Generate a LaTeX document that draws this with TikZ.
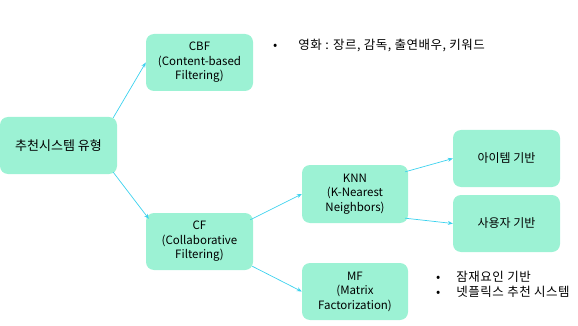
\documentclass[tikz,border=0pt]{standalone}
\usepackage{fontspec}
\setmainfont{Noto Sans CJK KR}
\newfontfamily\gulim[LetterSpace=4]{Noto Sans CJK KR}
\usepackage{xcolor}
\usetikzlibrary{positioning, arrows.meta}
\definecolor{mint}{HTML}{9CF2D4}
\definecolor{link}{HTML}{3CD2EE}
\newcommand\boxfont{\fontsize{11.5}{14.5}\selectfont\lineskiplimit=-20pt\relax}

\begin{document}
\begin{tikzpicture}[x=1pt, y=-1pt,
  box/.style={rectangle, rounded corners=8pt, fill=mint, align=center,
    minimum width=107pt, minimum height=57pt, inner sep=0pt,
    font=\boxfont},
  link/.style={draw=link, line width=0.7pt, -{Stealth[length=5pt, width=4pt]}},
  note/.style={anchor=west, inner sep=0pt, font=\gulim\fontsize{12.5}{15}\selectfont}]
\useasboundingbox (0,0) rectangle (578,326);
% Boxes
\node[box, minimum width=117pt, font=\fontsize{13}{15}\selectfont] (root) at (58.5,145.5) {추천시스템 유형};
\node[box] (cbf) at (199.5,62.5) {CBF\\(Content-based\\Filtering)};
\node[box] (cf) at (199.5,241.5) {CF\\(Collaborative\\Filtering)};
\node[box, minimum width=106pt, minimum height=58pt] (knn) at (355,194)
  {KNN\\(K-Nearest\\Neighbors)};
\node[box, minimum width=106pt] (mf) at (355,291.5) {MF\\(Matrix\\Factorization)};
\node[box, font=\fontsize{12}{15}\selectfont] (item) at (506.5,158.5) {아이템 기반};
\node[box, font=\fontsize{12}{15}\selectfont] (user) at (506.5,223.5) {사용자 기반};
% Arrows
\draw[link] ([xshift=-4pt, yshift=-1pt]root.north east) -- (cbf.west);
\draw[link] ([xshift=-4pt, yshift=2pt]root.south east) -- ([xshift=3pt, yshift=-6pt]cf.north west);
\draw[link] ([xshift=-3pt, yshift=-7pt]cf.north east) -- (knn.west);
\draw[link] ([xshift=-1pt, yshift=4pt]cf.south east) -- (mf.west);
\draw[link] ([xshift=-3pt, yshift=-7pt]knn.north east) -- (item.west);
\draw[link] ([xshift=-3pt, yshift=5pt]knn.south east) -- (user.west);
% Notes
\node[note] (n1) at (273,45) {•\hspace{21pt}영화 : 장르, 감독, 출연배우, 키워드};
\node[note] (n2) at (436,277) {•\hspace{16pt}잠재요인 기반};
\node[note] (n3) at (436,292) {•\hspace{16pt}넷플릭스 추천 시스템};
\end{tikzpicture}
\end{document}
